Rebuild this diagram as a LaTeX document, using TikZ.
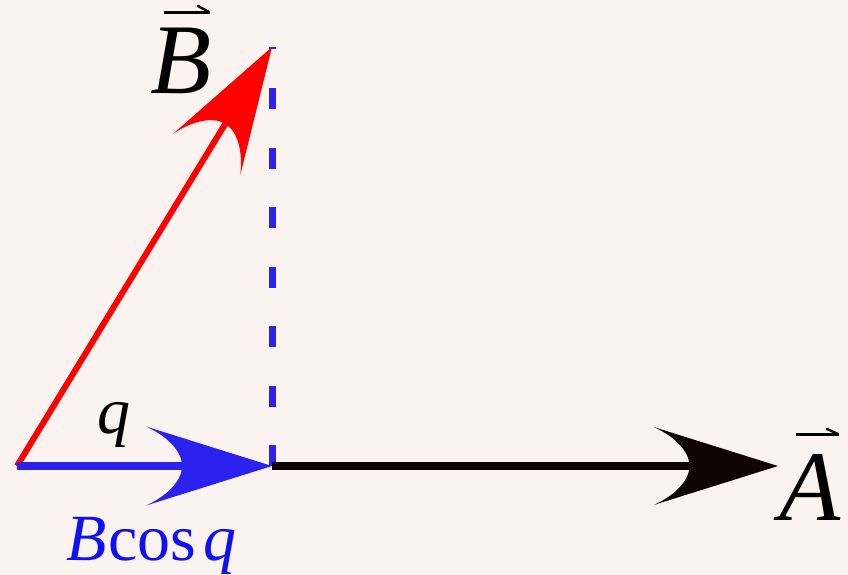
\documentclass[tikz,border=0pt]{standalone}
\usepackage{fontspec}
\setmainfont{Liberation Serif}
\usetikzlibrary{arrows.meta,calc}
\definecolor{bgc}{HTML}{FBF3F0}
\definecolor{vred}{HTML}{FF0000}
\definecolor{vblue}{HTML}{2B22F0}
\definecolor{tblue}{HTML}{1010F5}
\definecolor{vblack}{HTML}{0E0402}
\pgfdeclarearrow{
  name = Dart,
  parameters = {\the\pgfarrowlength},
  setup code = {
    \pgfarrowssettipend{0pt}
    \pgfarrowssetlineend{-0.68\pgfarrowlength}
    \pgfarrowssetbackend{-\pgfarrowlength}
    \pgfarrowssavethe\pgfarrowlength
  },
  drawing code = {
    \pgfpathmoveto{\pgfqpoint{0pt}{0pt}}
    \pgfpathlineto{\pgfqpoint{-\pgfarrowlength}{0.3135\pgfarrowlength}}
    \pgfpathcurveto{\pgfqpoint{-0.833\pgfarrowlength}{0.238\pgfarrowlength}}
                   {\pgfqpoint{-0.714\pgfarrowlength}{0.119\pgfarrowlength}}
                   {\pgfqpoint{-0.714\pgfarrowlength}{0pt}}
    \pgfpathcurveto{\pgfqpoint{-0.714\pgfarrowlength}{-0.119\pgfarrowlength}}
                   {\pgfqpoint{-0.833\pgfarrowlength}{-0.238\pgfarrowlength}}
                   {\pgfqpoint{-\pgfarrowlength}{-0.3135\pgfarrowlength}}
    \pgfpathclose
    \pgfusepathqfill
  },
  defaults = {length = 126pt}
}
\tikzset{
  redvec/.style={color=vred, line width=6pt, -{Dart[length=126pt]}},
  bluevec/.style={color=vblue, line width=7.5pt, -{Dart[length=126pt]}},
  blackvec/.style={color=vblack, line width=8pt, -{Dart[length=124pt]}},
  projline/.style={draw=vblue, line width=7pt, dash pattern=on 21pt off 38.5pt},
  biglab/.style={inner sep=0pt, anchor=base west, font=\fontsize{100}{110}\selectfont\itshape},
  midlab/.style={inner sep=0pt, anchor=base west, font=\fontsize{66}{76}\selectfont},
  accent/.style={draw=black, line width=3pt},
  barb/.style={draw=black, line width=2.4pt, line cap=round}
}
\begin{document}
\begin{tikzpicture}[x=1pt,y=-1pt]
\fill[bgc] (0,0) rectangle (848,575);
\useasboundingbox (0,0) rectangle (848,575);
\coordinate (O) at (17,466);
\coordinate (F) at (272,466);
\coordinate (Atip) at (778,466);
\coordinate (Btip) at (272,47);
\draw[redvec] (O) -- (Btip);
\draw[projline] (F) -- (Btip);
\draw[blackvec] (F) -- (Atip);
\draw[bluevec] (O) -- (F);
\node[biglab] (Blab) at (150,94) {B};
\draw[accent] ($(Blab.base west)+(14,-81)$) -- ++(46,0);
\draw[barb] ($(Blab.base west)+(48,-88)$) -- ++(11,6);
\node[biglab] (Alab) at (779,520) {A};
\draw[accent] ($(Alab.base west)+(17,-86)$) -- ++(43,0);
\draw[barb] ($(Alab.base west)+(48,-91)$) -- ++(11,5);
\node[midlab, text=black] (qlab) at (97,433) {\itshape q};
\node[midlab, text=tblue] (proj) at (66,560) {{\itshape B}\hspace{2pt}cos\hspace{7pt}{\itshape q}};
\end{tikzpicture}
\end{document}
